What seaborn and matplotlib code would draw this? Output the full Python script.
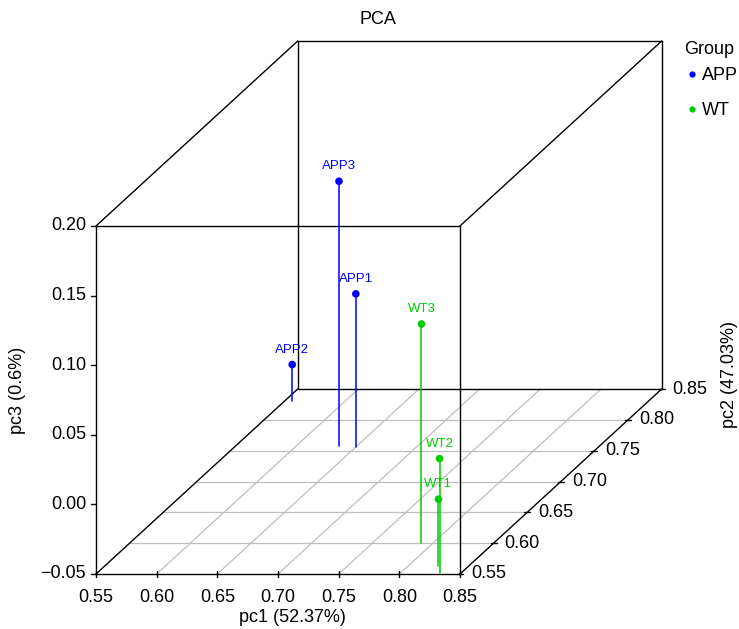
import numpy as np
import pandas as pd
import matplotlib
matplotlib.use("Agg")
import matplotlib.pyplot as plt
from matplotlib.lines import Line2D
import seaborn as sns

# ---- data ----
samples = ["APP1", "APP2", "APP3", "WT1", "WT2", "WT3"]
groups = ["APP", "APP", "APP", "WT", "WT", "WT"]
pc1 = [0.650, 0.556, 0.635, 0.825, 0.832, 0.790]
pc2 = [0.756, 0.831, 0.758, 0.563, 0.552, 0.601]
pc3 = [0.060, -0.024, 0.140, -0.002, 0.032, 0.107]

x_ticks = [0.55, 0.60, 0.65, 0.70, 0.75, 0.80, 0.85]
y_ticks = [0.55, 0.60, 0.65, 0.70, 0.75, 0.80, 0.85]
z_ticks = [-0.05, 0.00, 0.05, 0.10, 0.15, 0.20]
group_colors = {"APP": "#0000FF", "WT": "#00CD00"}

title = "PCA"
xlabel = "pc1 (52.37%)"
ylabel = "pc2 (47.03%)"
zlabel = "pc3 (0.6%)"

# ---- oblique projection (scatterplot3d style) ----
XMIN, XMAX = x_ticks[0], x_ticks[-1]
YMIN, YMAX = y_ticks[0], y_ticks[-1]
ZMIN, ZMAX = z_ticks[0], z_ticks[-1]
ORIG = (96.0, 574.0)       # pixel position of (xmin, ymin, zmin)
XLEN, ZLEN = 364.0, 348.0  # pixel length of x and z axes
YDX, YDY = 201.7, 185.0    # pixel offset of the y axis


def proj(x, y, z):
    x = np.asarray(x, float); y = np.asarray(y, float); z = np.asarray(z, float)
    fx = (x - XMIN) / (XMAX - XMIN)
    fy = (y - YMIN) / (YMAX - YMIN)
    fz = (z - ZMIN) / (ZMAX - ZMIN)
    px = ORIG[0] + fx * XLEN + fy * YDX
    py = ORIG[1] - fz * ZLEN - fy * YDY
    return px, py


sns.set_style("white")
plt.rcParams["font.family"] = ["Liberation Sans", "DejaVu Sans"]
plt.rcParams["text.color"] = "black"

W, H = 739, 629
fig = plt.figure(figsize=(W / 100, H / 100), dpi=100)
ax = fig.add_axes([0, 0, 1, 1])
ax.set_xlim(0, W)
ax.set_ylim(H, 0)
ax.axis("off")

grid_kw = dict(color="#BEBEBE", lw=0.9, zorder=1)
box_kw = dict(color="black", lw=1.0, zorder=2)

# floor grid
for yv in y_ticks[1:-1]:
    px, py = proj([XMIN, XMAX], [yv, yv], [ZMIN, ZMIN])
    ax.plot(px, py, **grid_kw)
for xv in x_ticks[1:-1]:
    px, py = proj([xv, xv], [YMIN, YMAX], [ZMIN, ZMIN])
    ax.plot(px, py, **grid_kw)

# box edges
corners = [(xi, yi, zi) for xi in (XMIN, XMAX) for yi in (YMIN, YMAX) for zi in (ZMIN, ZMAX)]
for a in corners:
    for b in corners:
        if a < b and sum(1 for i in range(3) if a[i] != b[i]) == 1:
            px, py = proj([a[0], b[0]], [a[1], b[1]], [a[2], b[2]])
            ax.plot(px, py, **box_kw)

# ticks & tick labels
tick_fs = 13
for xv in x_ticks:
    px, py = proj(xv, YMIN, ZMIN)
    ax.plot([px, px], [py - 3, py + 3], **box_kw)
    ax.text(px, py + 23, f"{xv:.2f}", ha="center", va="center", fontsize=tick_fs, color="black")
for zv in z_ticks:
    px, py = proj(XMIN, YMIN, zv)
    ax.plot([px - 5, px], [py, py], **box_kw)
    ax.text(px - 10, py, f"{zv:.2f}".replace("-", "\u2212"), ha="right", va="center",
            fontsize=tick_fs, color="black")
for yv in y_ticks:
    px, py = proj(XMAX, yv, ZMIN)
    ax.plot([px - 3, px + 3], [py, py], **box_kw)
    ax.text(px + 11, py, f"{yv:.2f}", ha="left", va="center", fontsize=tick_fs, color="black")

# axis labels and title
ax.text(292, 618, xlabel, ha="center", va="center", fontsize=tick_fs, color="black")
ax.text(18, 390, zlabel, ha="center", va="center", rotation=90, fontsize=tick_fs, color="black")
ax.text(730, 375, ylabel, ha="center", va="center", rotation=90, fontsize=tick_fs, color="black")
ax.text(378, 20, title, ha="center", va="center", fontsize=tick_fs, color="black")

# data
df = pd.DataFrame({"sample": samples, "group": groups, "pc1": pc1, "pc2": pc2, "pc3": pc3})
df["px"], df["py"] = proj(df["pc1"], df["pc2"], df["pc3"])
_, df["py0"] = proj(df["pc1"], df["pc2"], np.full(len(df), ZMIN))

for _, r in df.iterrows():
    ax.plot([r["px"], r["px"]], [r["py"], r["py0"]], color=group_colors[r["group"]], lw=1.1, zorder=3)
    ax.text(r["px"], r["py"] - 15, r["sample"], color=group_colors[r["group"]],
            ha="center", va="center", fontsize=9.5, zorder=5)

sns.scatterplot(data=df, x="px", y="py", hue="group", palette=group_colors,
                s=30, edgecolor="none", legend=False, ax=ax, zorder=4)
ax.set_xlim(0, W)
ax.set_ylim(H, 0)
ax.axis("off")

# legend
ax.text(684, 49, "Group", ha="left", va="center", fontsize=13, color="black")
handles = [Line2D([], [], marker="o", ls="none", color=group_colors[g], markersize=3.5, label=g)
           for g in ["APP", "WT"]]
leg = fig.legend(handles=handles, loc="upper left",
                 bbox_to_anchor=(683 / W, 1 - 67 / H), frameon=False,
                 fontsize=13, labelspacing=1.0,
                 handlelength=1.0, handletextpad=0.05, borderaxespad=0, borderpad=0)
for t in leg.get_texts():
    t.set_color("black")

fig.savefig("out.png", dpi=100)
